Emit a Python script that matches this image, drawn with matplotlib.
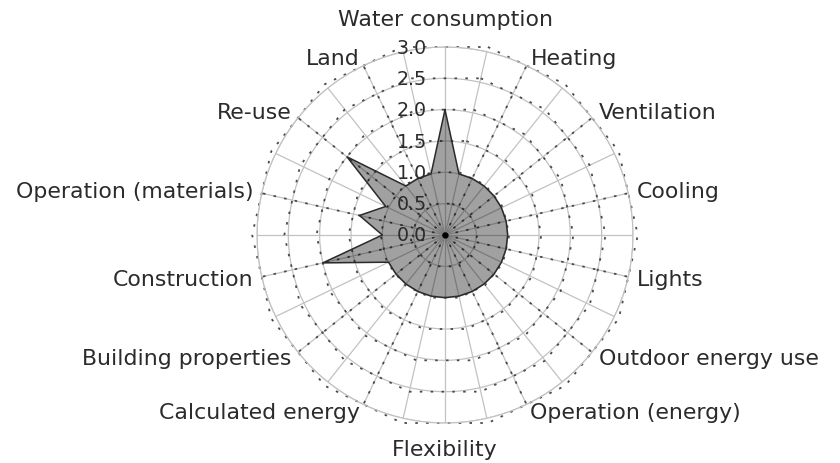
import numpy as np
import matplotlib.pyplot as plt

# Categories, clockwise from the top.
categories = ["Water consumption", "Heating", "Ventilation", "Cooling", "Lights",
              "Outdoor energy use", "Operation (energy)", "Flexibility",
              "Calculated energy", "Building properties", "Construction",
              "Operation (materials)", "Re-use", "Land"]
scores = [2.0, 1.0, 1.0, 1.0, 1.0, 1.0, 1.0, 1.0, 1.0, 1.0, 2.0, 1.4, 2.0, 1.0]
# Outline points halfway after each category (clockwise).
between = [1.0, 1.0, 1.0, 1.0, 1.0, 1.0, 1.0, 1.0, 1.0, 1.0, 1.0, 1.05, 1.0, 1.0]
levels = [0.5, 1.0, 1.5, 2.0, 2.5, 3.0]
rtick_labels = [0.0, 0.5, 1.0, 1.5, 2.0, 2.5, 3.0]

n = len(categories)
step = 2 * np.pi / n
ang = np.arange(n) * step
ang_mid = ang + step / 2

fig = plt.figure(figsize=(8.4, 4.64), dpi=100)
ax = fig.add_axes([257 / 840, 40 / 464, 376 / 840, 376 / 464], projection="polar")
ax.set_theta_zero_location("N")
ax.set_theta_direction(-1)
ax.set_ylim(0, 3.0)

# Solid light grid: circles and spokes.
ax.set_xticks(np.arange(2 * n) * step / 2)
ax.set_xticklabels([])
ax.set_yticks(levels)
ax.set_yticklabels([])
ax.grid(True, color="#c2c2c2", lw=0.9, ls="-")
ax.spines["polar"].set_color("#c2c2c2")
ax.spines["polar"].set_linewidth(0.9)
ax.tick_params(length=0)

# Dotted web: polygons touching the circles at the category angles.
dot = (0, (1.4, 4.6))
th_closed = np.append(ang_mid, ang_mid[0])
for lev in levels:
    r = lev / np.cos(step / 2)
    ax.plot(th_closed, np.full(n + 1, r), color="#4a4a4a", lw=1.3, ls=dot,
            clip_on=False, zorder=2)
for a in ang:
    if abs(np.sin(a)) > 0.1:  # the vertical axis stays a plain grey line
        ax.plot([a, a], [0, 3.0], color="#4a4a4a", lw=1.3, ls=dot, zorder=2)

# Data shape.
th_poly = np.arange(2 * n) * step / 2
r_poly = np.column_stack([scores, between]).ravel()
ax.fill(th_poly, r_poly, facecolor="black", alpha=0.37, edgecolor="none", zorder=3)
ax.plot(np.append(th_poly, th_poly[0]), np.append(r_poly, r_poly[0]),
        color="#2a2a2a", lw=1.1, zorder=4)
ax.plot(0, 0, "o", color="black", ms=3.5, zorder=5)

# Radial value labels along the vertical axis.
for v in rtick_labels:
    ax.annotate(f"{v:.1f}", xy=(0, v), xytext=(-18, 0), textcoords="offset pixels",
                ha="right", va="center", fontsize=13.7, color="#2b2b2b", zorder=6)

# Category labels.
for a, name in zip(ang, categories):
    s = np.sin(a)
    c = np.cos(a)
    if s > 0.1:
        ha, r = "left", 3.14
    elif s < -0.1:
        ha, r = "right", 3.14
    else:
        ha, r = "center", 3.45 if c > 0 else 3.41
    ax.text(a, r, name, ha=ha, va="center", fontsize=15.8, color="#2b2b2b")

fig.savefig("out.png", dpi=100)
